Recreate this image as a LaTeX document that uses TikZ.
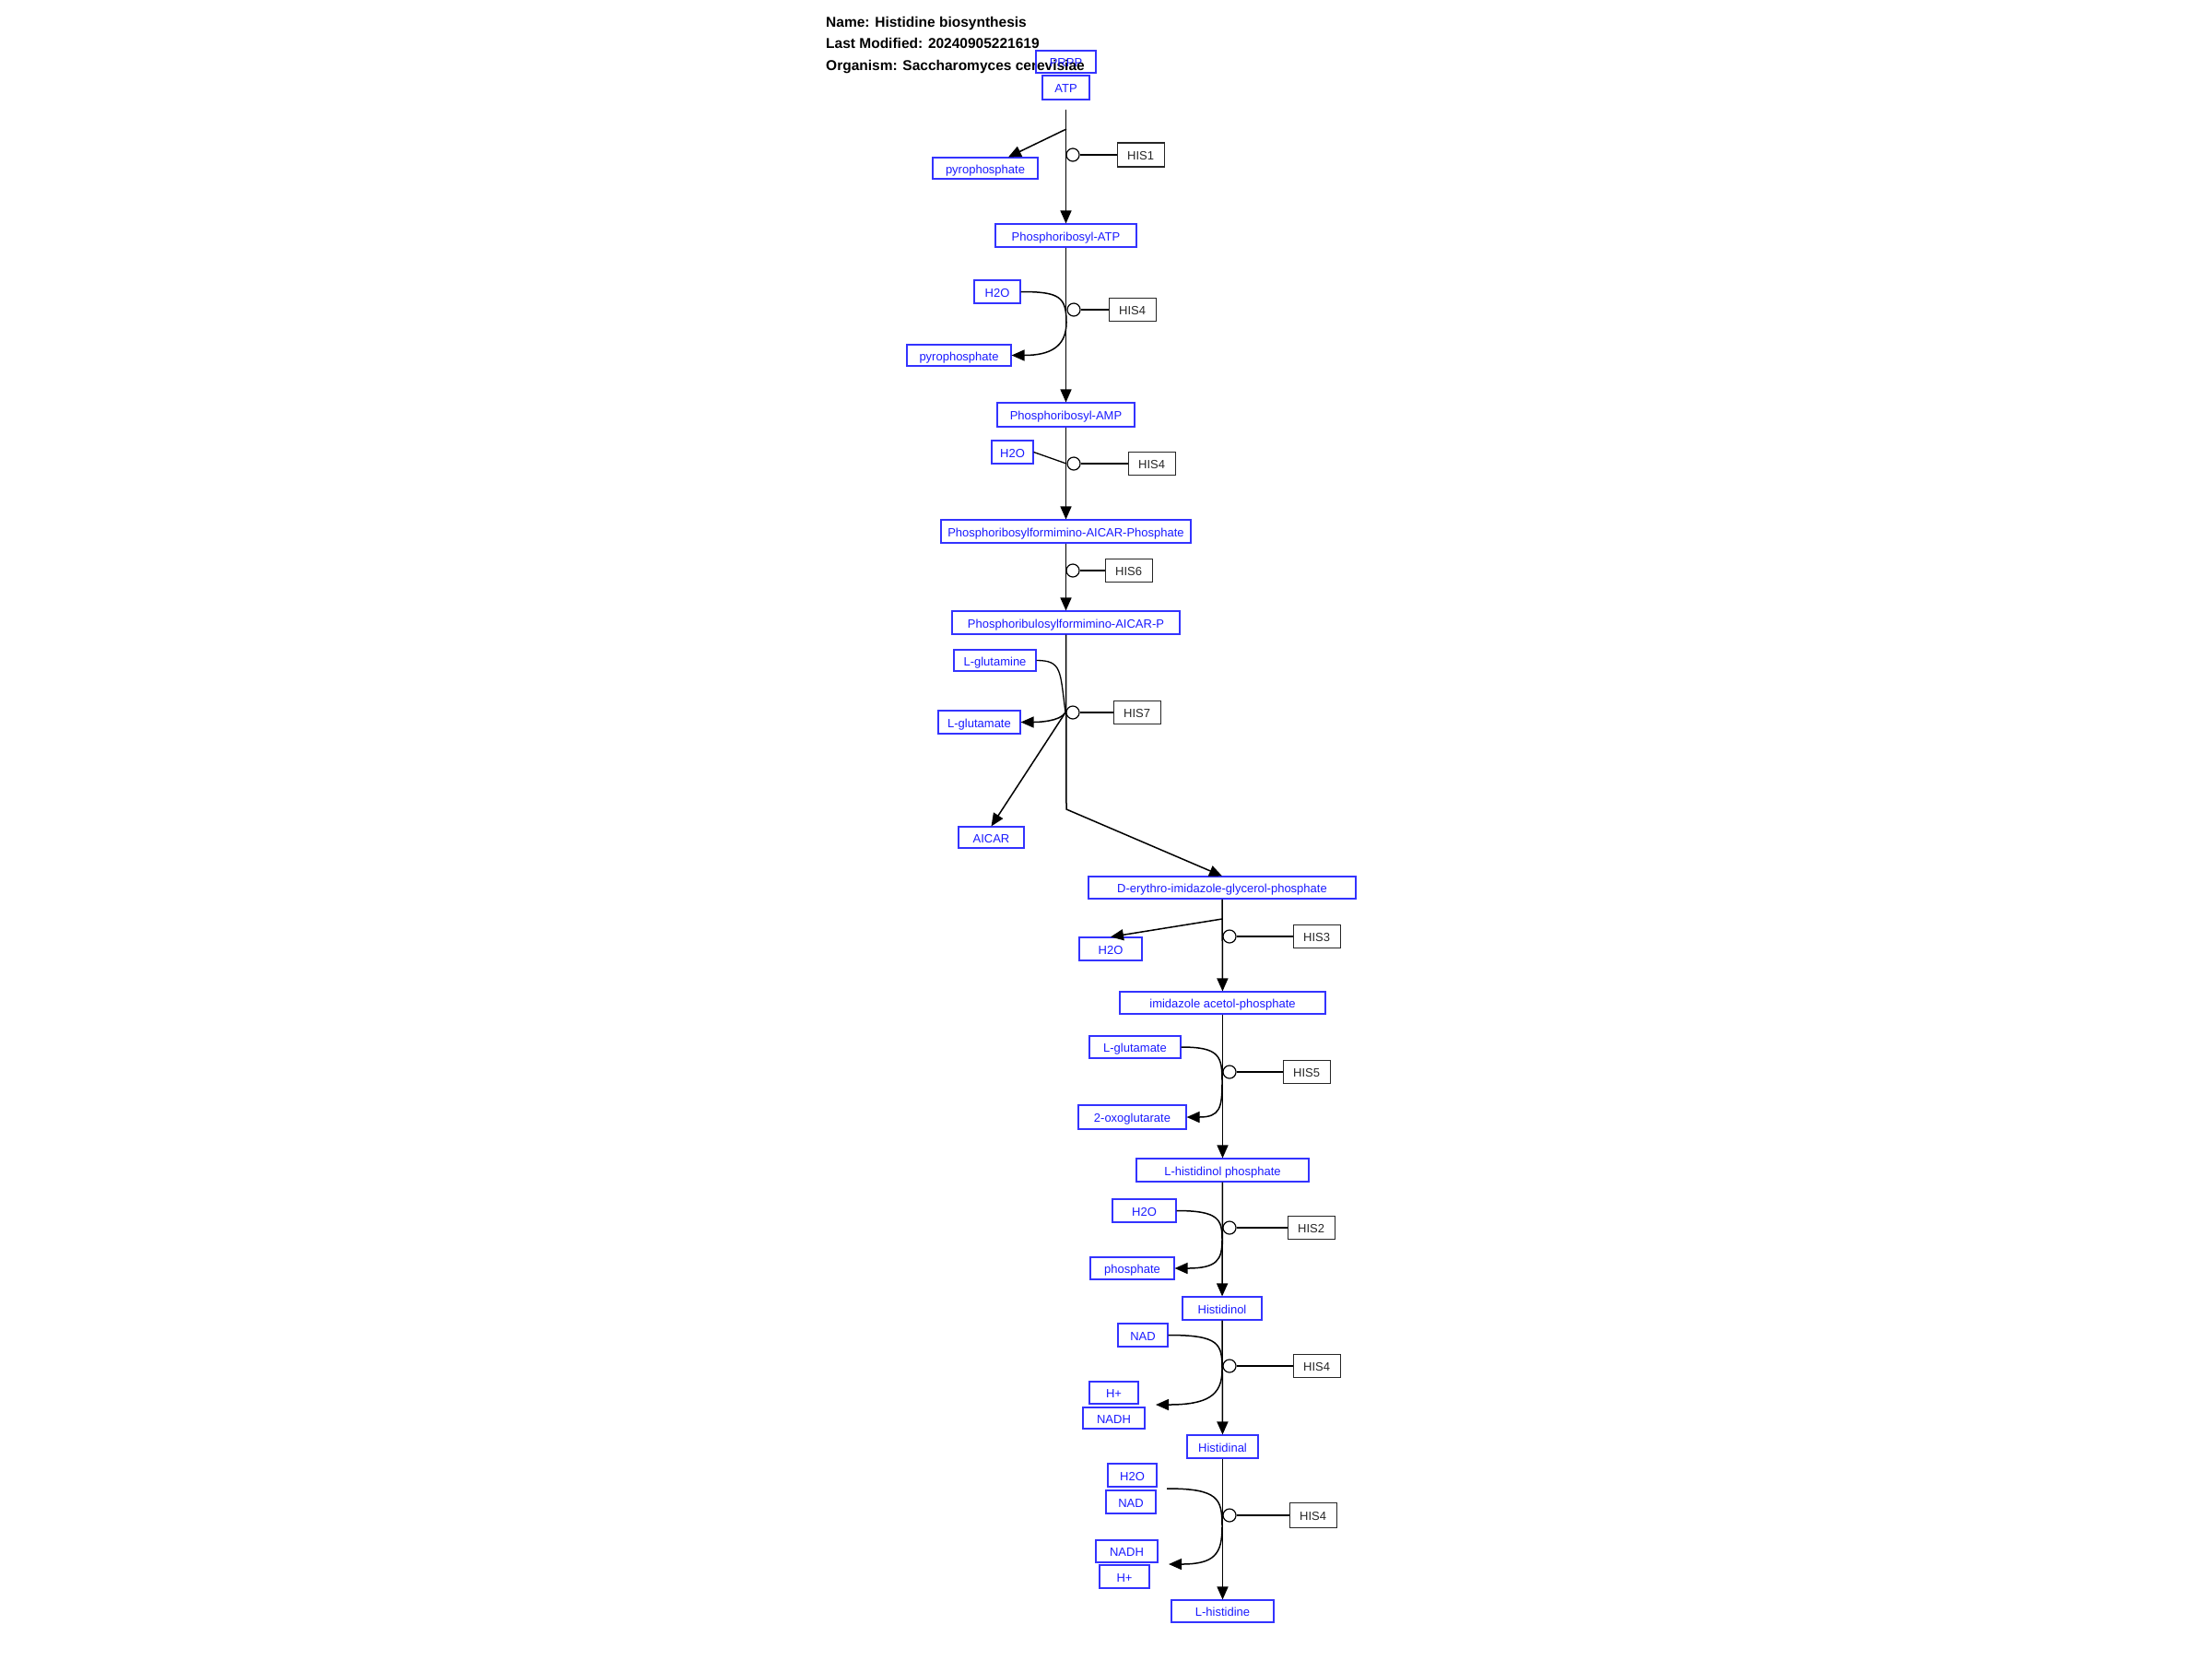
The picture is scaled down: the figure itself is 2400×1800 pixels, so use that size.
\documentclass[tikz,border=0pt]{standalone}
\usepackage{fontspec}
\setmainfont{Liberation Sans}
\usetikzlibrary{arrows.meta,positioning}

\begin{document}
\begin{tikzpicture}[
    x=1pt,y=-1pt,
    title/.style={anchor=base west,inner sep=0pt,font=\fontsize{15.5}{18}\selectfont\bfseries},
    met/.style={rectangle,draw=blue!80!white,text=blue!90!white,line width=1.1pt,inner sep=0pt,minimum height=24pt,text height=11.5pt,text depth=0.5pt,font=\fontsize{13}{15}\selectfont},
    enz/.style={rectangle,draw=black!85,text=black!85,line width=1.1pt,inner sep=0pt,minimum width=51pt,minimum height=25pt,text height=11.5pt,text depth=0.5pt,font=\fontsize{13}{15}\selectfont},
    cat/.style={circle,draw,fill=white,line width=1.2pt,inner sep=0pt,minimum size=14pt},
    conv/.style={line width=1.5pt,-{Triangle[length=14pt,width=12pt]}},
    link/.style={line width=1.3pt}
]
    \useasboundingbox (0,0) rectangle (2400,1800);

    \node[title] (name) at (896,29) {Name: Histidine biosynthesis};
    \node[title] (modified) at (896,52.5) {Last Modified: 20240905221619};
    \node[title] (organism) at (896,76) {Organism: Saccharomyces cerevisiae};

    \node[met,minimum width=65pt] (prpp) at (1156.5,67) {PRPP};
    \node[met,minimum width=51pt,minimum height=26pt] (atp) at (1156.5,95) {ATP};
    \node[met,minimum width=114pt,minimum height=23pt] (ppi1) at (1069,182.5) {pyrophosphate};
    \node[met,minimum width=153pt,minimum height=25pt] (prat) at (1156.5,255.5) {Phosphoribosyl-ATP};
    \node[met,minimum width=50pt,minimum height=25pt] (h2o1) at (1082,316.5) {H2O};
    \node[met,minimum width=113pt,minimum height=23pt] (ppi2) at (1040.5,385.5) {pyrophosphate};
    \node[met,minimum width=149pt,minimum height=26pt] (pramp) at (1156.5,450) {Phosphoribosyl-AMP};
    \node[met,minimum width=45pt,minimum height=25pt] (h2o2) at (1098.5,490.5) {H2O};
    \node[met,minimum width=271pt,minimum height=25pt] (profar) at (1156.5,576.5) {Phosphoribosylformimino-AICAR-Phosphate};
    \node[met,minimum width=247pt,minimum height=25pt] (prfar) at (1156.5,675.5) {Phosphoribulosylformimino-AICAR-P};
    \node[met,minimum width=89pt,minimum height=23pt] (gln) at (1079.5,716.5) {L-glutamine};
    \node[met,minimum width=89pt,minimum height=25pt] (glu1) at (1062.5,783.5) {L-glutamate};
    \node[met,minimum width=71pt,minimum height=23pt] (aicar) at (1075.5,908.5) {AICAR};
    \node[met,minimum width=290pt] (igp) at (1326,963) {D-erythro-imidazole-glycerol-phosphate};
    \node[met,minimum width=68pt,minimum height=25pt] (h2o3) at (1205,1029.5) {H2O};
    \node[met,minimum width=223pt] (iap) at (1326.5,1088) {imidazole acetol-phosphate};
    \node[met,minimum width=99pt] (glu2) at (1231.5,1136) {L-glutamate};
    \node[met,minimum width=117pt,minimum height=26pt] (akg) at (1228.5,1212) {2-oxoglutarate};
    \node[met,minimum width=187pt,minimum height=25pt] (hisp) at (1326.5,1269.5) {L-histidinol phosphate};
    \node[met,minimum width=69pt,minimum height=25pt] (h2o4) at (1241.5,1313.5) {H2O};
    \node[met,minimum width=91pt] (pi) at (1228.5,1376) {phosphate};
    \node[met,minimum width=86pt,minimum height=25pt] (hol) at (1326,1419.5) {Histidinol};
    \node[met,minimum width=54pt,minimum height=25pt] (nad1) at (1240,1448.5) {NAD};
    \node[met,minimum width=53pt] (hplus1) at (1208.5,1511) {H+};
    \node[met,minimum width=67pt,minimum height=23pt] (nadh1) at (1208.5,1538.5) {NADH};
    \node[met,minimum width=77pt,minimum height=25pt] (hal) at (1326.5,1569.5) {Histidinal};
    \node[met,minimum width=53pt,minimum height=25pt] (h2o5) at (1228.5,1600.5) {H2O};
    \node[met,minimum width=54pt,minimum height=25pt] (nad2) at (1227,1629.5) {NAD};
    \node[met,minimum width=67pt] (nadh2) at (1222.5,1683) {NADH};
    \node[met,minimum width=54pt,minimum height=25pt] (hplus2) at (1220,1710.5) {H+};
    \node[met,minimum width=111pt] (his) at (1326.5,1748) {L-histidine};

    \coordinate (b1) at (1157,140);
    \coordinate (a2) at (1157,350);
    \coordinate (a3) at (1157,503);
    \coordinate (a5) at (1156,773);
    \coordinate (bend5) at (1157,878);
    \coordinate (b6) at (1326,997);
    \coordinate (a7) at (1326,1174);
    \coordinate (a8) at (1326,1345);
    \coordinate (a9) at (1326,1486);
    \coordinate (e9) at (1254,1524);
    \coordinate (s10) at (1266,1615);
    \coordinate (a10) at (1326,1656);
    \coordinate (e10) at (1268,1697);

    \draw[conv,shorten <=10pt] (atp) -- (prat);
    \draw[conv] (b1) -- (ppi1);

    \draw[conv] (prat) -- (pramp);
    \draw[conv] (h2o1.east) .. controls +(42,0) and +(0,-28) .. (a2) .. controls +(0,26) and +(42,0) .. (ppi2.east);

    \draw[conv] (pramp) -- (profar);
    \draw[link] (h2o2.east) -- (a3);

    \draw[conv] (profar) -- (prfar);

    \draw[conv] (prfar) -- (bend5) -- (igp.north);
    \draw[link] (gln.east) .. controls +(28,0) and +(-6,-45) .. (a5);
    \draw[conv] (a5) .. controls +(-6,10) and +(18,0) .. (glu1.east);
    \draw[conv] (a5) -- (aicar.north);

    \draw[conv] (igp) -- (iap);
    \draw[conv] (b6) -- (h2o3.north);

    \draw[conv] (iap) -- (hisp);
    \draw[conv] (glu2.east) .. controls +(42,0) and +(0,-28) .. (a7) .. controls +(0,28) and +(36,0) .. (akg.east);

    \draw[conv] (hisp) -- (hol);
    \draw[conv] (h2o4.east) .. controls +(46,0) and +(0,-22) .. (a8) .. controls +(0,22) and +(46,0) .. (pi.east);

    \draw[conv] (hol) -- (hal);
    \draw[conv] (nad1.east) .. controls +(56,0) and +(0,-28) .. (a9) .. controls +(0,28) and +(56,0) .. (e9);

    \draw[conv] (hal) -- (his);
    \draw[conv] (s10) .. controls +(56,0) and +(0,-30) .. (a10) .. controls +(0,30) and +(50,0) .. (e10);

    \node[cat] (k1) at (1164,168) {};
    \node[cat] (k2) at (1165,336) {};
    \node[cat] (k3) at (1165,503) {};
    \node[cat] (k4) at (1164,619) {};
    \node[cat] (k5) at (1164,773) {};
    \node[cat] (k6) at (1334,1016) {};
    \node[cat] (k7) at (1334,1163) {};
    \node[cat] (k8) at (1334,1332) {};
    \node[cat] (k9) at (1334,1482) {};
    \node[cat] (k10) at (1334,1644) {};

    \node[enz,right=40pt of k1,minimum height=26pt] (his1) {HIS1};
    \node[enz,right=30pt of k2] (his4a) {HIS4};
    \node[enz,right=51pt of k3] (his4b) {HIS4};
    \node[enz,right=27pt of k4] (his6) {HIS6};
    \node[enz,right=36pt of k5] (his7) {HIS7};
    \node[enz,right=61pt of k6] (his3) {HIS3};
    \node[enz,right=50pt of k7] (his5) {HIS5};
    \node[enz,right=55pt of k8] (his2) {HIS2};
    \node[enz,right=61pt of k9] (his4c) {HIS4};
    \node[enz,right=57pt of k10,minimum height=27pt] (his4d) {HIS4};

    \draw[link] (k1) -- (his1);
    \draw[link] (k2) -- (his4a);
    \draw[link] (k3) -- (his4b);
    \draw[link] (k4) -- (his6);
    \draw[link] (k5) -- (his7);
    \draw[link] (k6) -- (his3);
    \draw[link] (k7) -- (his5);
    \draw[link] (k8) -- (his2);
    \draw[link] (k9) -- (his4c);
    \draw[link] (k10) -- (his4d);
\end{tikzpicture}
\end{document}
